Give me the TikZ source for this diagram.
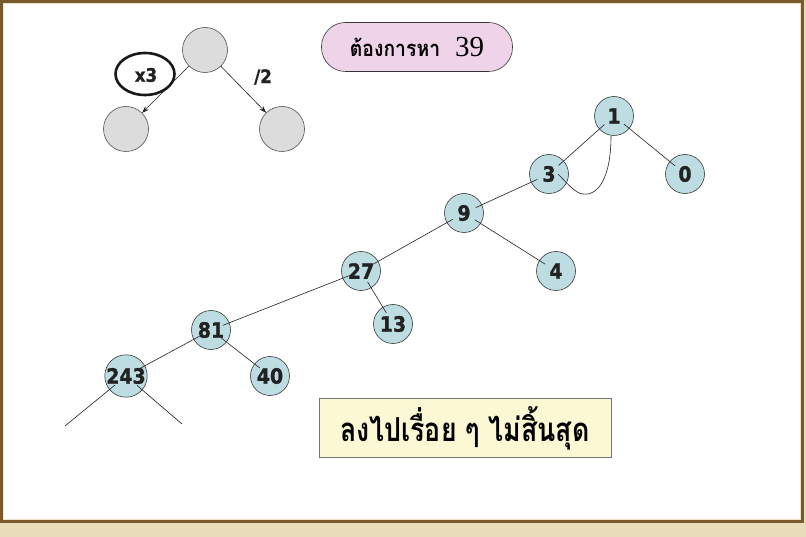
\documentclass[tikz,border=0pt]{standalone}
\usepackage{fontspec}
\usetikzlibrary{arrows.meta,shapes.geometric}
\newfontfamily\numfont{DejaVu Sans Condensed Bold}[FakeBold=1.3]
\newfontfamily\thaifont[Script=Thai]{Loma}
\newfontfamily\serifnum{Liberation Serif}
\definecolor{bgbeige}{HTML}{E8DCBA}
\definecolor{framebrown}{HTML}{7A5A2C}
\definecolor{nodeblue}{HTML}{BDDDE2}
\definecolor{nodegray}{HTML}{DCDCDC}
\definecolor{pinkfill}{HTML}{EFD3E8}
\definecolor{yellowfill}{HTML}{FBF8D3}
\definecolor{inkdark}{HTML}{222222}
\tikzset{
  tnode/.style={circle,draw=inkdark!90,line width=0.6pt,fill=nodeblue,minimum size=39pt,inner sep=0pt,
    font=\numfont\fontsize{21}{21}\selectfont,text=inkdark},
  gnode/.style={circle,draw=inkdark!80,line width=0.6pt,fill=nodegray,minimum size=45pt,inner sep=0pt},
  edge/.style={draw=inkdark,line width=0.6pt,shorten <=-7pt,shorten >=-7pt},
  lbl/.style={font=\numfont\fontsize{18.5}{18.5}\selectfont,text=inkdark,inner sep=0pt},
}
\begin{document}
\begin{tikzpicture}[x=1pt,y=-1pt]
\useasboundingbox (0,0) rectangle (806,537);
\fill[bgbeige] (0,0) rectangle (806,537);
\draw[framebrown,line width=3pt,fill=white] (1.5,1.5) rectangle (802.5,521.5);
\draw[bgbeige!80!white,line width=0.6pt] (3.3,3.3) rectangle (800.7,519.7);

% small legend tree
\node[gnode] (g0) at (205,50) {};
\node[gnode] (g1) at (126,129) {};
\node[gnode] (g2) at (282,129) {};
\draw[inkdark,line width=0.6pt,-{Stealth[length=7pt,width=5pt]}] (g0) -- (g1);
\draw[inkdark,line width=0.6pt,-{Stealth[length=7pt,width=5pt]}] (g0) -- (g2);
\node[ellipse,draw=black!90,line width=2.6pt,minimum width=59pt,minimum height=42pt,inner sep=0pt] (x3e) at (145,74) {};
\node[lbl] (x3) at (146,75) {x3};
\node[lbl] (d2) at (263,77) {/2};

% target box
\node[draw=inkdark!90,line width=0.6pt,fill=pinkfill,rounded corners=24pt,minimum width=191pt,minimum height=49pt,inner sep=0pt] (target) at (417,47)
  {\scalebox{0.88}[1]{\thaifont\bfseries\fontsize{22}{22}\selectfont ต้องการหา}\hspace{15pt}{\serifnum\fontsize{29}{29}\selectfont 39}};

% main tree
\node[tnode] (n1) at (614,116) {1};
\node[tnode] (n3) at (549,174) {3};
\node[tnode] (n0) at (685,174) {0};
\node[tnode] (n9) at (464,213) {9};
\node[tnode] (n4) at (556,271) {4};
\node[tnode] (n27) at (361,271) {27};
\node[tnode] (n13) at (393,324) {13};
\node[tnode] (n81) at (211,330) {81};
\node[tnode] (n40) at (270,376) {40};
\node[tnode] (n243) at (126,376) {243};
\coordinate (e1) at (65,426);
\coordinate (e2) at (182,424);
\coordinate (loopbot) at (583,194);
\coordinate (loopend) at (558,174);

\draw[edge] (n1) -- (n3);
\draw[edge] (n1) -- (n0);
\draw[edge] (n3) -- (n9);
\draw[edge] (n9) -- (n4);
\draw[edge] (n9) -- (n27);
\draw[edge] (n27) -- (n13);
\draw[edge] (n27) -- (n81);
\draw[edge] (n81) -- (n243);
\draw[edge] (n81) -- (n40);
\draw[edge,shorten >=0pt] (n243) -- (e1);
\draw[edge,shorten >=0pt] (n243) -- (e2);
\draw[inkdark,line width=0.6pt] (n1.south) ++(-3,0) .. controls (611,178) and (598,196) .. (loopbot) .. controls (576,194) and (566,182) .. (loopend);

% conclusion box
\node[draw=black!55,line width=0.8pt,fill=yellowfill,minimum width=292pt,minimum height=59pt,inner sep=0pt] (concl) at (465,428)
  {\scalebox{0.89}[1.1]{\thaifont\bfseries\fontsize{30}{30}\selectfont ลงไปเรื่อย ๆ ไม่สิ้นสุด}};
\end{tikzpicture}
\end{document}
